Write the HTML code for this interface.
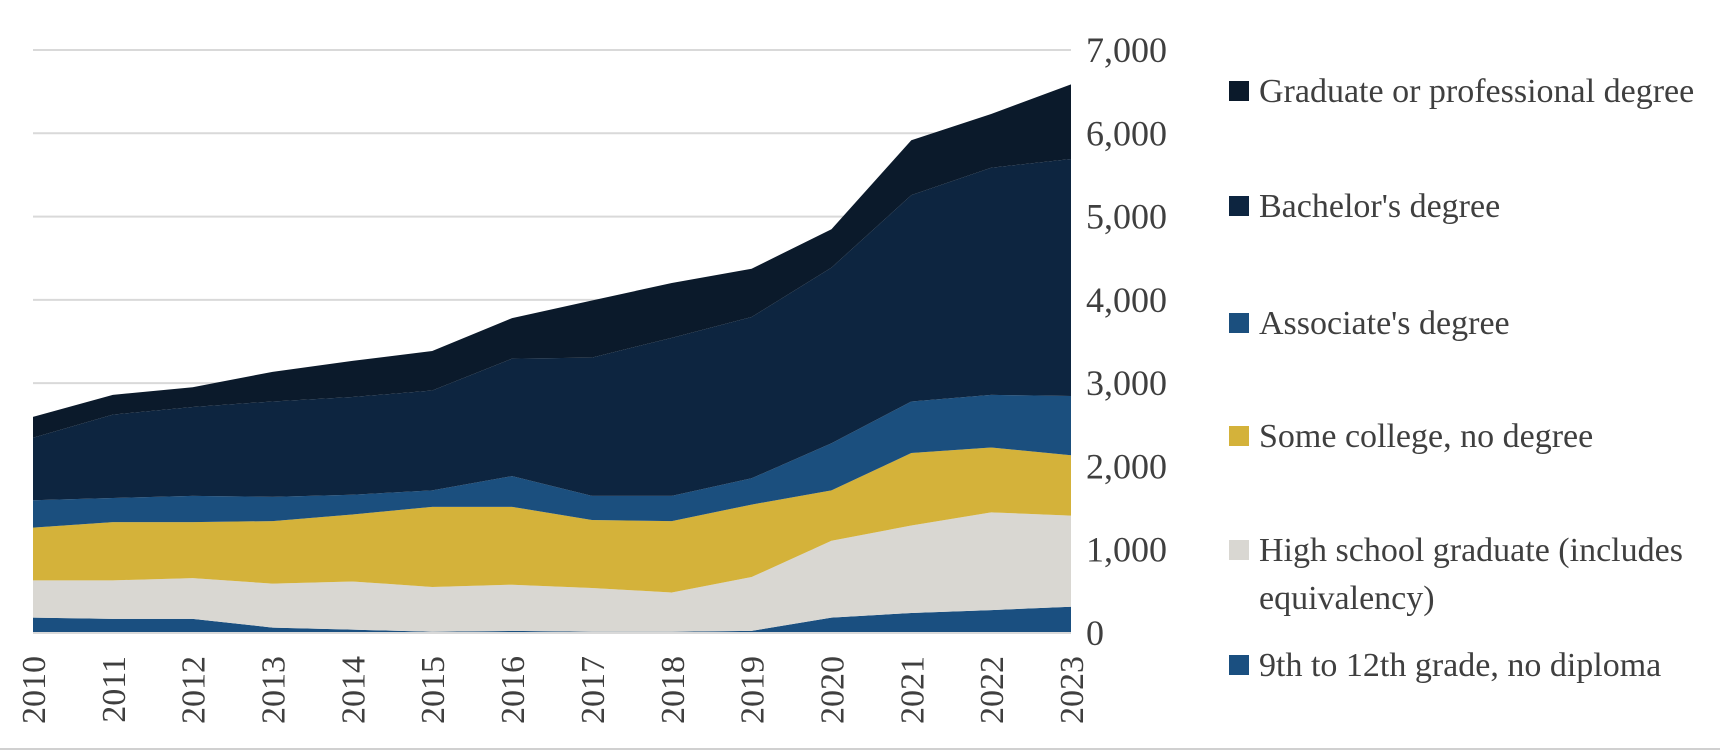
<!DOCTYPE html>
<html><head><meta charset="utf-8"><style>
body{margin:0;background:#fff;width:1720px;height:751px;overflow:hidden;font-family:"Liberation Serif",serif;}
svg text{font-family:"Liberation Serif",serif;fill:#3f3f3f;}
</style></head><body>
<svg id="chart" width="1720" height="751" viewBox="0 0 1720 751"></svg>
<script>
const years=[2010,2011,2012,2013,2014,2015,2016,2017,2018,2019,2020,2021,2022,2023];
const s912=[185,170,170,65,40,15,25,15,15,25,185,240,275,315];
const sHS=[447,462,489,528,579,538,555,525,472,647,922,1051,1174,1095];
const sSome=[633,699,672,751,804,962,935,817,857,870,606,870,778,724];
const sAssoc=[329,290,316,290,237,198,369,290,303,316,566,619,632,712];
const sBach=[751,1001,1067,1146,1173,1199,1410,1660,1897,1936,2108,2477,2727,2846];
const sGrad=[250,237,237,356,434,474,487,685,659,580,461,659,646,896];
const yTicks=[0,1000,2000,3000,4000,5000,6000,7000];
const seriesNames=["9th to 12th grade, no diploma","High school graduate (includes equivalency)","Some college, no degree","Associate's degree","Bachelor's degree","Graduate or professional degree"];
const seriesData=[s912,sHS,sSome,sAssoc,sBach,sGrad];
const colors=["#1a4f80","#d9d7d2","#d4b23a","#1b4f7e","#0d2540","#0b1a2b"];
const NS="http://www.w3.org/2000/svg";
const svg=document.getElementById('chart');
const x0=33,x1=1071,yBase=633,yTop=50;
const xs=i=>x0+(x1-x0)*i/(years.length-1);
const ys=v=>yBase-(yBase-yTop)*v/7000;
function mk(t,a){const e=document.createElementNS(NS,t);for(const k in a)e.setAttribute(k,a[k]);svg.appendChild(e);return e;}
yTicks.forEach(t=>{
  if(t>0){const l=mk('line',{x1:x0,x2:x1,y1:ys(t),y2:ys(t),stroke:'#d9d9d9','stroke-width':2});
  
  }
  const tx=mk('text',{x:1086,y:ys(t)+12,'font-size':36});
  tx.textContent=t.toLocaleString('en-US');
  
  
});
let cum=years.map(()=>0);
seriesData.forEach((s,k)=>{
  const lower=cum.slice();
  cum=cum.map((c,i)=>c+s[i]);
  let d='M'+years.map((y,i)=>xs(i)+','+ys(cum[i])).join(' L');
  for(let i=years.length-1;i>=0;i--)d+=' L'+xs(i)+','+ys(lower[i]);
  const p=mk('path',{d:d+'Z',fill:colors[k]});
  
  
});
const ax=mk('line',{x1:x0,x2:x1,y1:yBase,y2:yBase,stroke:'#d9d9d9','stroke-width':2});


years.forEach((y,i)=>{
  const t=mk('text',{x:0,y:0,'font-size':34,'text-anchor':'end',transform:`translate(${xs(i)+12},656) rotate(-90)`});
  t.textContent=y;
  
  
});
const legY=[91,206,323,436,550,665];
const legOrder=[5,4,3,2,1,0];
legOrder.forEach((k,j)=>{
  const r=mk('rect',{x:1229,y:legY[j]-10,width:20,height:20,fill:colors[k]});
  
  
  const t=mk('text',{x:1259,y:legY[j]+11,'font-size':34});
  
  
  if(k===1){t.textContent="High school graduate (includes";
    const t2=mk('text',{x:1259,y:legY[j]+59,'font-size':34});t2.textContent="equivalency)";
    
    }
  else t.textContent=seriesNames[k];
});
const b=mk('line',{x1:0,x2:1720,y1:749,y2:749,stroke:'#d0d0d0','stroke-width':2});


</script>
</body></html>
